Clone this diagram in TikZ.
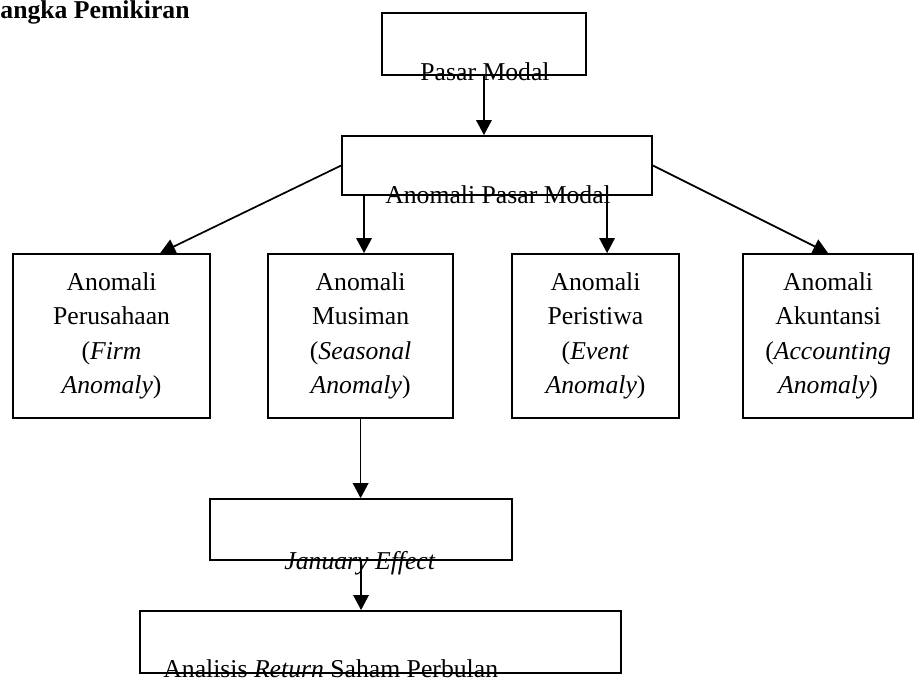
\documentclass[tikz,border=0pt]{standalone}
\usepackage{fontspec}
\setmainfont{Liberation Serif}
\usepackage{tikz}
\usetikzlibrary{arrows.meta,positioning}

\begin{document}
\begin{tikzpicture}[
    x=1pt, y=1pt,
    font=\fontsize{12pt}{16pt}\selectfont,
    box/.style={rectangle, draw, line width=0.8pt, inner sep=0pt},
    anom/.style={box, align=center, minimum height=76.6pt, inner xsep=5pt},
    lbl/.style={anchor=base, inner sep=0pt},
    arr/.style={-{Triangle[length=7pt,width=7.2pt]}, line width=0.8pt}]

  \useasboundingbox (0,0) rectangle (427.3,-316.2);
  \node[anchor=base west, inner sep=0pt] (judul) at (0,-8.6) {\textbf{angka Pemikiran}};

  % kotak atas
  \node[box, minimum width=95.3pt, minimum height=29pt] (pasar) at (226,-20.5) {};
  \node[lbl] (pasarlbl) at (226.5,-37.4) {Pasar Modal};
  \node[box, minimum width=144.8pt, minimum height=27.6pt] (anomali) at (232.1,-77.3) {};
  \node[lbl] (anomalilbl) at (232.6,-95.2) {Anomali Pasar Modal};

  % jenis anomali
  \node[anom, text width=82pt] (perusahaan) at (52.1,-156.9)
    {Anomali\\Perusahaan\\(\textit{Firm}\\\textit{Anomaly})};
  \node[anom, text width=76.4pt] (musiman) at (168.4,-156.9)
    {Anomali\\Musiman\\(\textit{Seasonal}\\\textit{Anomaly})};
  \node[anom, text width=68pt] (peristiwa) at (278.1,-156.9)
    {Anomali\\Peristiwa\\(\textit{Event}\\\textit{Anomaly})};
  \node[anom, text width=69.4pt] (akuntansi) at (386.7,-156.9)
    {Anomali\\Akuntansi\\(\textit{Accounting}\\\textit{Anomaly})};

  % kotak bawah
  \node[box, minimum width=141pt, minimum height=28.5pt] (january) at (168.6,-247.3) {};
  \node[lbl] (januarylbl) at (168.1,-265.8) {\textit{January Effect}};
  \node[box, minimum width=224.6pt, minimum height=29pt] (analisis) at (177.7,-299.8) {};
  \node[lbl, anchor=base west] (analisislbl) at (76.1,-316.6) {Analisis \textit{Return} Saham Perbulan};

  \draw[arr] (pasar.south) -- (pasar.south |- anomali.north);
  \draw[arr] (anomali.west) -- ([xshift=22.7pt]perusahaan.north);
  \draw[arr] ([xshift=1.6pt]musiman.north |- anomali.south) -- ([xshift=1.6pt]musiman.north);
  \draw[arr] ([xshift=5.4pt]peristiwa.north |- anomali.south) -- ([xshift=5.4pt]peristiwa.north);
  \draw[arr] (anomali.east) -- (akuntansi.north);
  \draw[arr] (musiman.south) -- (musiman.south |- january.north);
  \draw[arr] (january.south) -- (january.south |- analisis.north);
\end{tikzpicture}
\end{document}
